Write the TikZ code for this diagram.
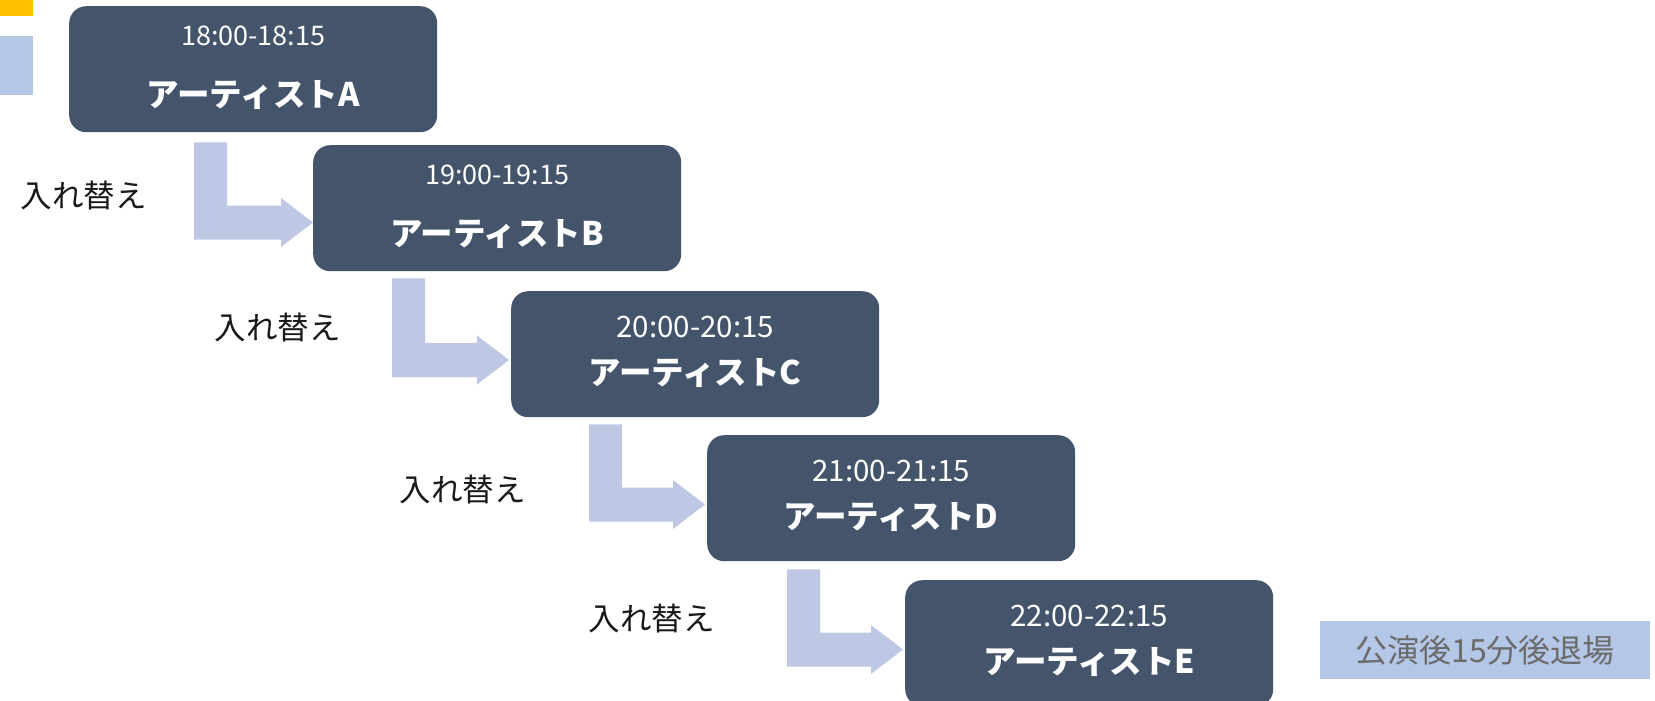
\documentclass[tikz,border=0pt]{standalone}
\usepackage{fontspec}
\setmainfont{Noto Sans CJK JP}
\usetikzlibrary{calc}
\definecolor{boxfill}{HTML}{44546A}
\definecolor{arrfill}{RGB}{190,200,228}
\definecolor{notefill}{HTML}{B4C7E7}
\definecolor{notetext}{HTML}{6B6B6B}
\definecolor{yel}{HTML}{FFC000}
\tikzset{
  artbox/.style={fill=boxfill, rounded corners=17pt, minimum width=368pt, minimum height=126pt, anchor=north west, inner sep=0pt},
  timetxt/.style={text=white, font=\fontsize{27}{30}\selectfont, inner sep=0pt},
  timetxtbig/.style={text=white, font=\fontsize{29.5}{33}\selectfont, inner sep=0pt},
  nametxt/.style={text=white, font=\bfseries\fontsize{32.5}{36}\selectfont, inner sep=0pt},
  swaptxt/.style={text=black!90, font=\fontsize{31.5}{36}\selectfont, inner sep=0pt},
  arrfillstyle/.style={fill=arrfill},
}
\newcommand\bentarrow[2]{%
  \fill[arrfillstyle] let \p1=(#1), \p2=(#2) in
    (\x1,\y1) -- (\x1+33pt,\y1) -- (\x1+33pt,\y2+17pt) -- (\x2-32pt,\y2+17pt)
    -- (\x2-32pt,\y2+24.5pt) -- (\x2,\y2) -- (\x2-32pt,\y2-24.5pt)
    -- (\x2-32pt,\y2-17pt) -- (\x1,\y2-17pt) -- cycle;}
\begin{document}
\begin{tikzpicture}[x=1pt,y=-1pt]
\useasboundingbox (0,0) rectangle (1655,701);
% top-left fragments
\fill[yel] (0,0) rectangle (33,16);
\fill[notefill] (0,36) rectangle (33,95);
% boxes
\node[artbox] (A) at (69,6) {};
\node[artbox] (B) at (313,145) {};
\node[artbox] (C) at (511,291) {};
\node[artbox] (D) at (707,435) {};
\node[artbox] (E) at (905,580) {};
% texts
\node[timetxt] (At) at ($(A.north)+(0,29.5)$) {18:00-18:15};
\node[nametxt] (An) at ($(A.north)+(0,89)$) {アーティストA};
\node[timetxt] (Bt) at ($(B.north)+(0,29.5)$) {19:00-19:15};
\node[nametxt] (Bn) at ($(B.north)+(0,89)$) {アーティストB};
\node[timetxtbig] (Ct) at ($(C.north)+(0,36)$) {20:00-20:15};
\node[nametxt] (Cn) at ($(C.north)+(0,82.5)$) {アーティストC};
\node[timetxtbig] (Dt) at ($(D.north)+(0,36)$) {21:00-21:15};
\node[nametxt] (Dn) at ($(D.north)+(0,82.5)$) {アーティストD};
\node[timetxtbig] (Et) at ($(E.north)+(0,36)$) {22:00-22:15};
\node[nametxt] (En) at ($(E.north)+(0,82.5)$) {アーティストE};
% arrows
\coordinate (s1) at ($(A.south west)+(125,10)$);
\coordinate (t1) at ($(B.north west)+(0,77.5)$);
\coordinate (s2) at ($(B.south west)+(79,7)$);
\coordinate (t2) at ($(C.north west)+(-2,69)$);
\coordinate (s3) at ($(C.south west)+(78,7)$);
\coordinate (t3) at ($(D.north west)+(-2,69.5)$);
\coordinate (s4) at ($(D.south west)+(80,8)$);
\coordinate (t4) at ($(E.north west)+(-2,69.5)$);
\bentarrow{s1}{t1}
\bentarrow{s2}{t2}
\bentarrow{s3}{t3}
\bentarrow{s4}{t4}
% swap labels
\node[swaptxt] (L1) at (83.5,195.5) {入れ替え};
\node[swaptxt] (L2) at (277.5,328) {入れ替え};
\node[swaptxt] (L3) at (462.5,490) {入れ替え};
\node[swaptxt] (L4) at (651.5,619) {入れ替え};
% note
\node[fill=notefill, minimum width=330pt, minimum height=58pt, inner sep=0pt, text=notetext, font=\fontsize{32}{36}\selectfont] (N) at (1485,650) {公演後15分後退場};
\end{tikzpicture}
\end{document}
